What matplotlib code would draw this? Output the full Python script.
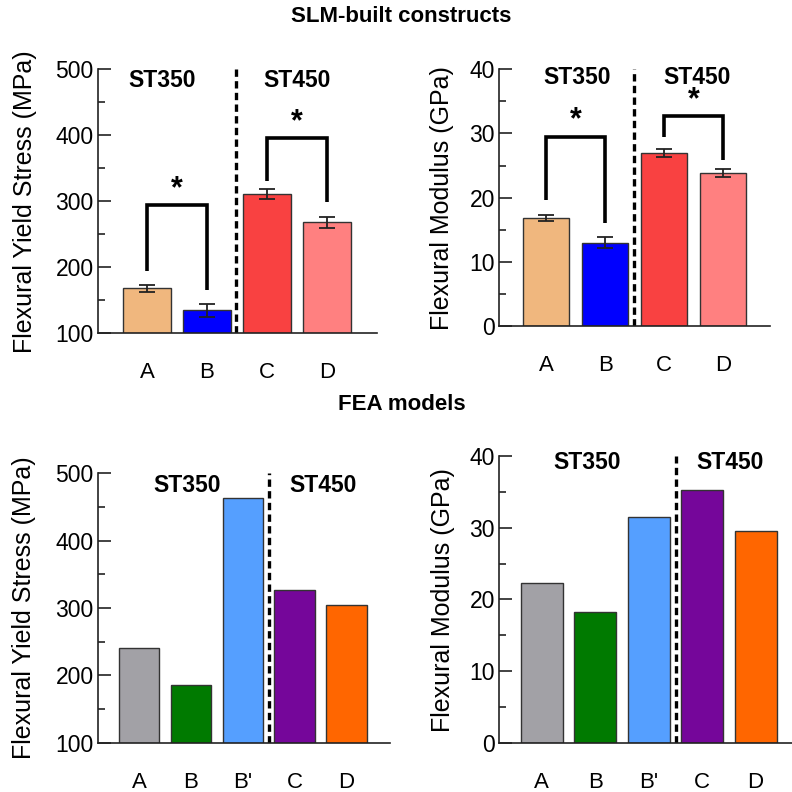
import matplotlib
matplotlib.use("Agg")
import matplotlib.pyplot as plt
from matplotlib.ticker import MultipleLocator

plt.rcParams['font.family'] = ['Liberation Sans', 'DejaVu Sans']

# ---- data ----
slm_labels = ['A', 'B', 'C', 'D']
slm_colors = ['#F0B77E', '#0000FF', '#F94141', '#FF8080']
slm_stress = [168, 135, 311, 268]
slm_stress_err = [5, 10, 7, 8]
slm_modulus = [16.8, 13.0, 27.0, 23.8]
slm_modulus_err = [0.45, 0.8, 0.6, 0.6]

fea_labels = ['A', 'B', "B'", 'C', 'D']
fea_colors = ['#A2A1A6', '#007A00', '#559FFF', '#75069A', '#FF6600']
fea_stress = [240, 185, 463, 327, 305]
fea_modulus = [22.3, 18.3, 31.5, 35.2, 29.6]

# significance brackets: (i, j, top, left leg bottom, right leg bottom, star y)
stress_brackets = [(0, 1, 295, 195, 165, 327), (2, 3, 396, 331, 299, 428)]
modulus_brackets = [(0, 1, 29.45, 19.7, 16.1, 32.9), (2, 3, 32.7, 29.45, 25.8, 36.0)]

W = H = 792
fig = plt.figure(figsize=(7.92, 7.92), dpi=100)


def add_ax(left, top, right, bottom):
    return fig.add_axes([left / W, 1 - bottom / H, (right - left) / W, (bottom - top) / H])


def style(ax, ymin, ymax, major, minor, xmin, xmax, labels):
    ax.set_ylim(ymin, ymax)
    ax.set_xlim(xmin, xmax)
    ax.yaxis.set_major_locator(MultipleLocator(major))
    ax.yaxis.set_minor_locator(MultipleLocator(minor))
    for s in ['top', 'right']:
        ax.spines[s].set_visible(False)
    for s in ['left', 'bottom']:
        ax.spines[s].set_linewidth(1.2)
        ax.spines[s].set_color('#222222')
    ax.tick_params(axis='y', which='major', direction='in', length=9.5, width=1.2,
                   color='#222222', labelsize=16.5, pad=3)
    ax.tick_params(axis='y', which='minor', direction='in', length=5, width=1.2, color='#222222')
    ax.set_xticks(range(len(labels)))
    ax.set_xticklabels(labels)
    ax.tick_params(axis='x', length=0, labelsize=16, pad=21)


def group_labels(ax, x1, x2, y):
    ax.text(x1, y, 'ST350', transform=ax.transAxes, ha='center', va='center',
            fontsize=16.5, fontweight='bold')
    ax.text(x2, y, 'ST450', transform=ax.transAxes, ha='center', va='center',
            fontsize=16.5, fontweight='bold')


def brackets(ax, items):
    for i, j, top, lb, rb, sy in items:
        ax.plot([i, i, j, j], [lb, top, top, rb], color='black', lw=2.6,
                solid_joinstyle='miter', solid_capstyle='butt', clip_on=False)
        ax.annotate('*', xy=((i + j) / 2, sy), xytext=(0, -4), textcoords='offset points',
                    ha='center', va='center', fontsize=22, fontweight='bold')


def divider(ax, x):
    ax.axvline(x, color='black', lw=2.4, ls=(0, (2.2, 1.3)))


# ---- top-left ----
ax1 = add_ax(98, 69.3, 377, 333.3)
x = range(len(slm_labels))
ax1.bar(x, slm_stress, width=0.8, color=slm_colors, edgecolor='#333333', lw=1.0,
        bottom=0, zorder=2)
ax1.errorbar(x, slm_stress, yerr=slm_stress_err, fmt='none', ecolor='#222222',
             elinewidth=1.3, capsize=6, capthick=1.3, zorder=3)
style(ax1, 100, 500, 100, 50, -0.82, 3.84, slm_labels)
divider(ax1, 1.49)
brackets(ax1, stress_brackets)
group_labels(ax1, 0.229, 0.713, 0.959)

# ---- top-right ----
ax2 = add_ax(499, 69.3, 770, 326)
ax2.bar(x, slm_modulus, width=0.78, color=slm_colors, edgecolor='#333333', lw=1.0, zorder=2)
ax2.errorbar(x, slm_modulus, yerr=slm_modulus_err, fmt='none', ecolor='#222222',
             elinewidth=1.3, capsize=6, capthick=1.3, zorder=3)
style(ax2, 0, 40, 10, 5, -0.8, 3.79, slm_labels)
divider(ax2, 1.49)
brackets(ax2, modulus_brackets)
group_labels(ax2, 0.287, 0.732, 0.968)

# ---- bottom-left ----
ax3 = add_ax(97.7, 473.3, 390, 742.7)
x5 = range(len(fea_labels))
ax3.bar(x5, fea_stress, width=0.78, color=fea_colors, edgecolor='#333333', lw=1.0, zorder=2)
style(ax3, 100, 500, 100, 50, -0.8, 4.84, fea_labels)
divider(ax3, 2.51)
group_labels(ax3, 0.305, 0.771, 0.953)

# ---- bottom-right ----
ax4 = add_ax(499, 456, 792, 742.7)
ax4.bar(x5, fea_modulus, width=0.79, color=fea_colors, edgecolor='#333333', lw=1.0, zorder=2)
style(ax4, 0, 40, 10, 5, -0.8, 4.68, fea_labels)
divider(ax4, 2.51)
group_labels(ax4, 0.30, 0.79, 0.976)

# ---- axis titles ----
fig.text(25 / W, 1 - 202 / H, 'Flexural Yield Stress (MPa)', rotation=90,
         ha='center', va='center', fontsize=18)
fig.text(442 / W, 1 - 198 / H, 'Flexural Modulus (GPa)', rotation=90,
         ha='center', va='center', fontsize=18)
fig.text(24 / W, 1 - 608 / H, 'Flexural Yield Stress (MPa)', rotation=90,
         ha='center', va='center', fontsize=18)
fig.text(443 / W, 1 - 600 / H, 'Flexural Modulus (GPa)', rotation=90,
         ha='center', va='center', fontsize=18)

fig.text(401 / W, 1 - 16 / H, 'SLM-built constructs', ha='center', va='center',
         fontsize=16, fontweight='bold')
fig.text(402 / W, 1 - 405 / H, 'FEA models', ha='center', va='center',
         fontsize=16, fontweight='bold')

fig.savefig('out.png', dpi=100)
